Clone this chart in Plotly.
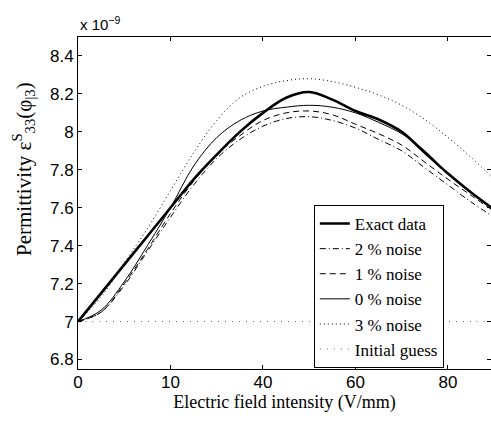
import plotly.graph_objects as go

x = [0, 5, 10, 15, 20, 25, 30, 35, 40, 45, 50, 55, 60, 65, 70, 75, 80, 85, 90]

exact = [7.00, 7.15, 7.30, 7.45, 7.60, 7.75, 7.88, 8.00, 8.10, 8.18, 8.21, 8.17, 8.11, 8.065, 8.00, 7.89, 7.78, 7.68, 7.59]
noise2 = [7.00, 7.05, 7.19, 7.37, 7.55, 7.72, 7.86, 7.96, 8.03, 8.07, 8.08, 8.06, 8.02, 7.96, 7.90, 7.81, 7.72, 7.63, 7.55]
noise1 = [7.00, 7.05, 7.20, 7.38, 7.57, 7.74, 7.88, 7.98, 8.06, 8.10, 8.11, 8.09, 8.04, 7.99, 7.93, 7.84, 7.75, 7.665, 7.58]
noise0 = [7.00, 7.06, 7.21, 7.40, 7.60, 7.82, 7.97, 8.06, 8.11, 8.13, 8.14, 8.13, 8.10, 8.05, 7.99, 7.90, 7.78, 7.68, 7.59]
noise3 = [7.00, 7.13, 7.31, 7.49, 7.69, 7.89, 8.06, 8.18, 8.24, 8.27, 8.28, 8.265, 8.235, 8.195, 8.14, 8.065, 7.97, 7.865, 7.75]
initial = [7.00] * len(x)

x_tickvals = [0, 20, 40, 60, 80]
x_ticktext = ["0", "10", "40", "60", "80"]
y_tickvals = [6.8, 7.0, 7.2, 7.4, 7.6, 7.8, 8.0, 8.2, 8.4]
y_ticktext = ["6.8", "7", "7.2", "7.4", "7.6", "7.8", "8", "8.2", "8.4"]

series = [
    ("Exact data", exact, dict(color="black", width=2.6, dash="solid")),
    ("2 % noise", noise2, dict(color="black", width=1, dash="6px,3px,1px,3px")),
    ("1 % noise", noise1, dict(color="black", width=1, dash="6px,4px")),
    ("0 % noise", noise0, dict(color="black", width=1, dash="solid")),
    ("3 % noise", noise3, dict(color="black", width=1, dash="1px,3px")),
    ("Initial guess", initial, dict(color="#666666", width=1, dash="1px,6px")),
]

fig = go.Figure()
for name, ys, line in series:
    fig.add_trace(go.Scatter(x=x, y=ys, mode="lines", name=name,
                             line=dict(shape="spline", smoothing=1.0, **line)))

axis_common = dict(showline=True, linecolor="black", linewidth=1, mirror="ticks",
                   ticks="inside", ticklen=4, tickcolor="black", showgrid=False,
                   zeroline=False, automargin=False,
                   tickfont=dict(family="Liberation Sans, Arial", size=17, color="black"))

serif = "Liberation Serif, Times New Roman"

fig.update_layout(
    width=491, height=421,
    margin=dict(l=78, r=0, t=37, b=52),
    paper_bgcolor="white", plot_bgcolor="white",
    xaxis=dict(range=[0, 89.3], tickvals=x_tickvals, ticktext=x_ticktext,
               ticklabelstandoff=-2,
               title=dict(text="Electric field intensity (V/mm)", standoff=0,
                          font=dict(family=serif, size=18, color="black")),
               **axis_common),
    yaxis=dict(range=[6.75, 8.5], tickvals=y_tickvals, ticktext=y_ticktext,
               **axis_common),
    legend=dict(x=0.571, y=0.494, xanchor="left", yanchor="top",
                bgcolor="white", bordercolor="black", borderwidth=1,
                font=dict(family=serif, size=17, color="black"),
                tracegroupgap=0, entrywidth=200, entrywidthmode="pixels"),
    showlegend=True,
    annotations=[
        dict(text="x 10<sup>−9</sup>", xref="paper", yref="paper", x=0, y=1,
             xanchor="left", yanchor="bottom", yshift=2, showarrow=False,
             font=dict(family="Liberation Sans, Arial", size=15, color="black")),
        dict(text="Permittivity ε<sup>S</sup><sub>33</sub>(φ<sub>|3</sub>)",
             xref="paper", yref="paper", x=(24 - 78) / 413, y=(369 - 169) / 332,
             xanchor="center", yanchor="middle", textangle=-90, showarrow=False,
             font=dict(family=serif, size=21, color="black")),
    ],
)

fig.write_html("out.html", config={"displayModeBar": False},
               post_script="document.body.style.margin='0px';document.body.style.overflow='hidden';")
